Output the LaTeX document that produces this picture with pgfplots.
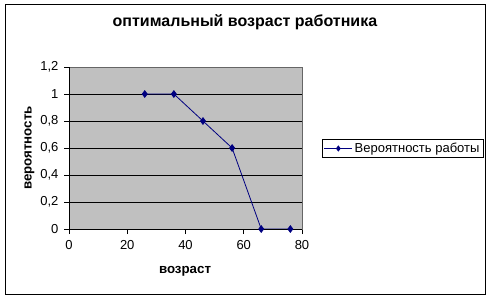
\documentclass[border=0pt]{standalone}
\usepackage{fontspec}
\setmainfont{Liberation Sans}
\usepackage{pgfplots}
\pgfplotsset{compat=1.18}
\definecolor{plotgray}{HTML}{C0C0C0}
\definecolor{navy}{HTML}{000080}
\begin{document}
\begin{tikzpicture}[x=1pt,y=1pt]
\path[fill=white] (0,0) rectangle (492,300);
\draw[black, line width=1pt] (5,6) rectangle (485,295);
\begin{axis}[
  at={(69pt,71pt)}, anchor=south west,
  scale only axis, width=233pt, height=162pt,
  xmin=0, xmax=80, ymin=0, ymax=1.2,
  xtick={0,20,40,60,80},
  ytick={0,0.2,0.4,0.6,0.8,1,1.2},
  /pgf/number format/use comma,
  /pgf/number format/assume math mode=true,
  tick label style={font=\fontsize{13}{15}\selectfont, black},
  ticklabel style={/pgf/number format/fixed},
  xticklabel style={yshift=-3pt},
  yticklabel style={xshift=-2pt},
  tick align=outside, tick pos=left,
  major tick length=5pt,
  every tick/.style={black, line width=0.8pt},
  axis background/.style={fill=plotgray},
  axis line style={draw=gray!80!black, line width=0.8pt},
  ymajorgrids, major grid style={black, line width=0.9pt},
  title={оптимальный возраст работника},
  title style={font=\bfseries\fontsize{16}{19}\selectfont, at={(rel axis cs:0.755,1.241)}, anchor=center},
  xlabel={возраст},
  xlabel style={font=\bfseries\fontsize{13.3}{16}\selectfont, at={(rel axis cs:0.498,-0.263)}, anchor=center},
  ylabel={вероятность},
  ylabel style={font=\bfseries\fontsize{13.3}{16}\selectfont, at={(rel axis cs:-0.17,0.5)}, anchor=center, rotate=0},
  legend style={at={(rel axis cs:1.086,0.497)}, anchor=west, draw=black, line width=0.8pt,
    font=\fontsize{13}{15}\selectfont, inner sep=1.5pt, row sep=0pt, fill=white},
  legend cell align=left,
  legend image code/.code={\draw[#1] (0pt,0pt) -- (28pt,0pt); \draw[#1, mark size=2.5pt, mark repeat=2, mark phase=2] plot coordinates {(0pt,0pt) (14pt,0pt) (28pt,0pt)};},
]
\addplot[navy, line width=0.8pt, mark=diamond*, mark size=3.3pt, mark options={fill=navy, draw=navy}]
  coordinates {(26,1) (36,1) (46,0.8) (56,0.6) (66,0) (76,0)};
\addlegendentry{Вероятность работы}
\draw[black, line width=0.9pt] (rel axis cs:0,0) -- (rel axis cs:0,1);
\draw[black, line width=0.9pt] (rel axis cs:0,0) -- (rel axis cs:1,0);
\end{axis}
\end{tikzpicture}
\end{document}
